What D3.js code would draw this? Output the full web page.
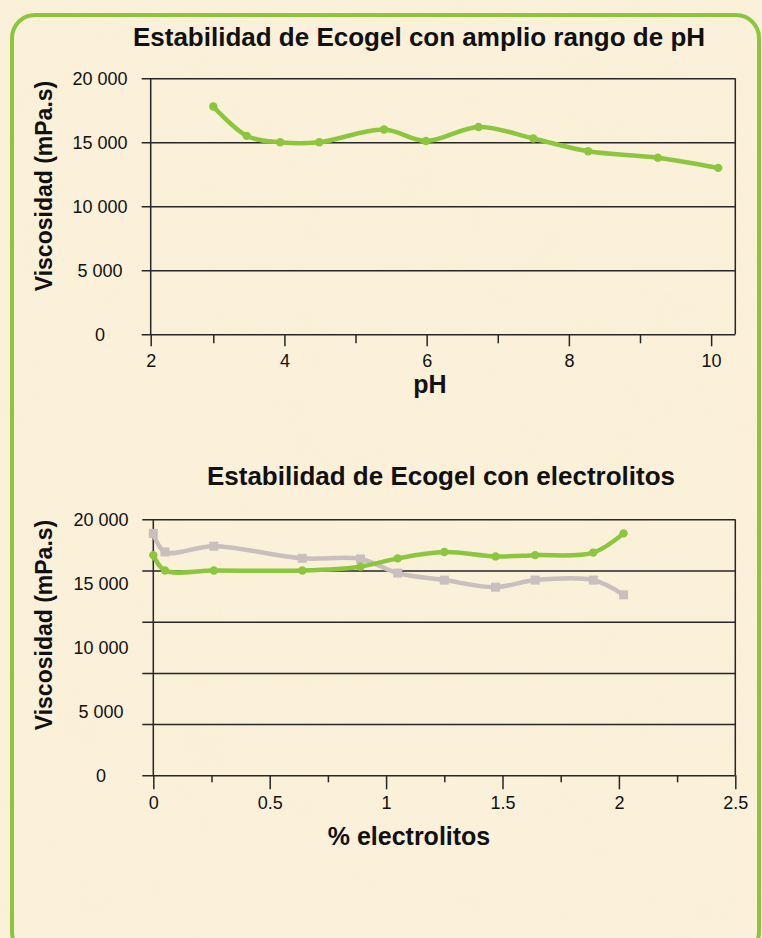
<!DOCTYPE html>
<html>
<head>
<meta charset="utf-8">
<script src="https://cdn.jsdelivr.net/npm/d3@7.9.0/dist/d3.min.js"></script>
<style>
  html, body { margin: 0; padding: 0; background: #fbf0d9; }
  svg { display: block; font-family: 'Liberation Sans', Arial, sans-serif; }
</style>
</head>
<body>
<div id="chart"></div>
<script>
// pH chart
const phValues = [3.0, 3.47, 3.94, 4.49, 5.4, 5.99, 6.73, 7.5, 8.27, 9.25, 10.1];
const phViscosity = [17800, 15500, 15000, 15000, 16000, 15100, 16200, 15300, 14300, 13800, 13000];
const phDomain = [2.12, 10.34];
const phMajorTicks = [2.12, 4, 6, 8, 10];
const phTickLabels = ['2', '4', '6', '8', '10'];
const phMinorTicks = [3, 5, 7, 9];
const phGrid = [0, 5000, 10000, 15000, 20000];
const phYLabels = [0, 5000, 10000, 15000, 20000];

// electrolitos chart
const electrolitos = [0, 0.05, 0.26, 0.64, 0.89, 1.05, 1.25, 1.47, 1.64, 1.89, 2.02];
const greenViscosity = [17200, 16000, 16000, 16000, 16300, 16950, 17450, 17100, 17200, 17400, 18900];
const greyViscosity = [18900, 17450, 17900, 16950, 16900, 15800, 15250, 14700, 15250, 15250, 14100];
const elDomain = [0, 2.5];
const elMajorTicks = [0, 0.5, 1, 1.5, 2, 2.5];
const elTickLabels = ['0', '0.5', '1', '1.5', '2', '2.5'];
const elMinorTicks = [0.25, 0.75, 1.25, 1.75, 2.25];
const elGrid = [0, 4000, 8000, 12000, 16000, 20000];
const elYLabels = [0, 5000, 10000, 15000, 20000];

const width = 762;
const height = 938;
const green = '#8cc63f';
const grey = '#c9bfbe';
const ink = '#262626';

const fmt = d3.formatLocale({ decimal: '.', thousands: ' ', grouping: [3], currency: ['', ''] }).format(',');

const svg = d3.select('#chart')
  .append('svg')
  .attr('width', width)
  .attr('height', height);

function drawBackground() {
  const defs = svg.append('defs');
  const f = defs.append('filter').attr('id', 'paper').attr('x', 0).attr('y', 0).attr('width', 1).attr('height', 1);
  f.append('feTurbulence')
    .attr('type', 'fractalNoise')
    .attr('baseFrequency', 0.018)
    .attr('numOctaves', 3)
    .attr('seed', 7);
  f.append('feColorMatrix')
    .attr('type', 'matrix')
    .attr('values', '0 0 0 0 0.93  0 0 0 0 0.84  0 0 0 0 0.62  0.9 0 0 0 -0.38');

  svg.append('rect').attr('width', width).attr('height', height).attr('fill', '#fbf0d9');
  svg.append('rect').attr('width', width).attr('height', height)
    .attr('filter', 'url(#paper)').attr('opacity', 0.4);

  svg.append('rect')
    .attr('x', 12).attr('y', 15)
    .attr('width', 747).attr('height', 940)
    .attr('rx', 23)
    .attr('fill', 'none')
    .attr('stroke', green)
    .attr('stroke-width', 4);
}

function drawChart(cfg) {
  const { area } = cfg;
  const g = svg.append('g');

  const x = d3.scaleLinear().domain(cfg.xDomain).range([area.left, area.right]);
  const y = d3.scaleLinear().domain([0, 20000]).range([area.bottom, area.top]);

  // gridlines + left ticks
  g.append('g')
    .attr('transform', `translate(${area.left - cfg.yTick}, 0)`)
    .call(d3.axisLeft(y).tickValues(cfg.grid).tickFormat('').tickSize(-(area.right - area.left + cfg.yTick)))
    .call((s) => s.select('.domain').remove())
    .call((s) => s.selectAll('line').attr('stroke', ink).attr('stroke-width', 1.5));

  // right border
  g.append('line')
    .attr('x1', area.right).attr('x2', area.right)
    .attr('y1', area.top).attr('y2', area.bottom)
    .attr('stroke', ink).attr('stroke-width', 1.5);

  // y axis line
  g.append('line')
    .attr('x1', area.left).attr('x2', area.left)
    .attr('y1', area.top).attr('y2', area.bottom)
    .attr('stroke', ink).attr('stroke-width', 1.5);

  // x ticks
  const xMajor = g.append('g')
    .attr('transform', `translate(0, ${area.bottom})`)
    .call(d3.axisBottom(x).tickValues(cfg.majorTicks).tickSize(cfg.majorSize)
      .tickFormat((d, i) => cfg.tickLabels[i]).tickPadding(cfg.labelPad));
  xMajor.select('.domain').remove();
  xMajor.selectAll('line').attr('stroke', ink).attr('stroke-width', 1.5);
  xMajor.selectAll('text')
    .attr('font-size', 18)
    .attr('fill', '#111')
    .attr('font-family', "'Liberation Sans', Arial, sans-serif");

  g.append('g')
    .attr('transform', `translate(0, ${area.bottom})`)
    .call(d3.axisBottom(x).tickValues(cfg.minorTicks).tickSize(cfg.minorSize).tickFormat(''))
    .call((s) => s.select('.domain').remove())
    .call((s) => s.selectAll('line').attr('stroke', ink).attr('stroke-width', 1.5));

  // y labels
  g.append('g')
    .selectAll('text')
    .data(cfg.yLabels)
    .join('text')
    .attr('x', cfg.yLabelX)
    .attr('y', (d) => y(d))
    .attr('dy', '0.35em')
    .attr('text-anchor', 'middle')
    .attr('font-size', 18)
    .attr('fill', '#111')
    .text((d) => fmt(d));

  // series
  const line = d3.line()
    .x((d) => x(d[0]))
    .y((d) => y(d[1]))
    .curve(d3.curveCatmullRom.alpha(0.5));

  for (const s of cfg.series) {
    const pts = d3.zip(s.x, s.y);
    g.append('path')
      .datum(pts)
      .attr('d', line)
      .attr('fill', 'none')
      .attr('stroke', s.color)
      .attr('stroke-width', 4.5)
      .attr('stroke-linejoin', 'round');

    if (s.marker === 'square') {
      g.append('g')
        .selectAll('rect')
        .data(pts)
        .join('rect')
        .attr('x', (d) => x(d[0]) - 4.5)
        .attr('y', (d) => y(d[1]) - 4.5)
        .attr('width', 9)
        .attr('height', 9)
        .attr('fill', s.color);
    } else {
      g.append('g')
        .selectAll('circle')
        .data(pts)
        .join('circle')
        .attr('cx', (d) => x(d[0]))
        .attr('cy', (d) => y(d[1]))
        .attr('r', 4.2)
        .attr('fill', s.color);
    }
  }

  // titles
  g.append('text')
    .attr('x', cfg.titleX)
    .attr('y', cfg.titleY)
    .attr('text-anchor', 'middle')
    .attr('font-size', 26)
    .attr('font-weight', 'bold')
    .attr('fill', '#111')
    .text(cfg.title);

  g.append('text')
    .attr('x', cfg.xTitleX)
    .attr('y', cfg.xTitleY)
    .attr('text-anchor', 'middle')
    .attr('font-size', 25)
    .attr('font-weight', 'bold')
    .attr('fill', '#111')
    .text(cfg.xTitle);

  g.append('text')
    .attr('transform', `translate(52, ${cfg.yTitleY}) rotate(-90)`)
    .attr('text-anchor', 'middle')
    .attr('font-size', 23)
    .attr('font-weight', 'bold')
    .attr('fill', '#111')
    .text('Viscosidad (mPa.s)');
}

drawBackground();

drawChart({
  area: { left: 150.7, right: 735.3, top: 78.3, bottom: 334.3 },
  xDomain: phDomain,
  majorTicks: phMajorTicks,
  tickLabels: phTickLabels,
  minorTicks: phMinorTicks,
  majorSize: 12,
  minorSize: 9,
  labelPad: 8,
  grid: phGrid,
  yLabels: phYLabels,
  yTick: 9,
  yLabelX: 100,
  series: [{ x: phValues, y: phViscosity, color: green, marker: 'circle' }],
  title: 'Estabilidad de Ecogel con amplio rango de pH',
  titleX: 419,
  titleY: 46,
  xTitle: 'pH',
  xTitleX: 430,
  xTitleY: 393,
  yTitleY: 186,
});

drawChart({
  area: { left: 153.3, right: 735.3, top: 519.3, bottom: 775.3 },
  xDomain: elDomain,
  majorTicks: elMajorTicks,
  tickLabels: elTickLabels,
  minorTicks: elMinorTicks,
  majorSize: 14,
  minorSize: 7,
  labelPad: 7,
  grid: elGrid,
  yLabels: elYLabels,
  yTick: 11,
  yLabelX: 101,
  series: [
    { x: electrolitos, y: greyViscosity, color: grey, marker: 'square' },
    { x: electrolitos, y: greenViscosity, color: green, marker: 'circle' },
  ],
  title: 'Estabilidad de Ecogel con electrolitos',
  titleX: 441,
  titleY: 485,
  xTitle: '% electrolitos',
  xTitleX: 409,
  xTitleY: 845,
  yTitleY: 625,
});
</script>
</body>
</html>
